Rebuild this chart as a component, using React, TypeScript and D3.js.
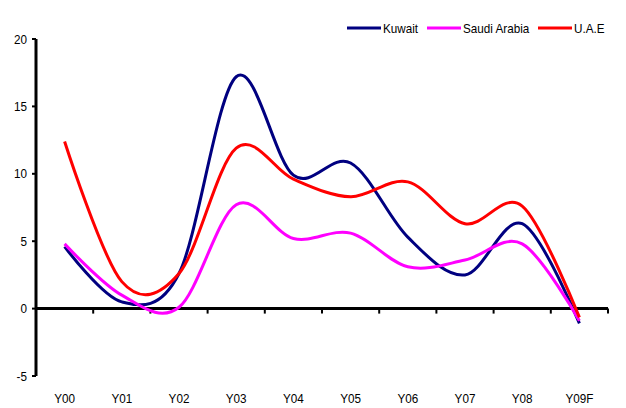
import React from "react";
import * as d3 from "d3";

const categories = ["Y00", "Y01", "Y02", "Y03", "Y04", "Y05", "Y06", "Y07", "Y08", "Y09F"];
const kuwait = [4.6, 0.5, 2.6, 17.2, 9.9, 10.8, 5.3, 2.5, 6.3, -1.1];
const saudiArabia = [4.8, 1.0, 0.1, 7.7, 5.2, 5.6, 3.1, 3.6, 4.8, -0.9];
const uae = [12.4, 2.0, 2.6, 11.9, 9.6, 8.3, 9.4, 6.3, 7.6, -0.65];
const yTicks = [-5, 0, 5, 10, 15, 20];

const series = [
  { name: "Kuwait", values: kuwait, color: "#000080" },
  { name: "Saudi Arabia", values: saudiArabia, color: "#ff00ff" },
  { name: "U.A.E", values: uae, color: "#ff0000" },
];

const W = 626;
const H = 408;
const left = 36;
const right = 608;
const top = 39;
const bottom = 376;
const font = "'Liberation Sans', Arial, sans-serif";
const fontSize = 13;
const squeeze = 0.9;

// Label drawn with a slightly condensed horizontal scale
function Label({
  x,
  y,
  anchor,
  children,
}: {
  x: number;
  y: number;
  anchor: "start" | "middle" | "end";
  children: React.ReactNode;
}) {
  return (
    <text
      transform={`translate(${x},${y}) scale(${squeeze},1)`}
      dy="0.35em"
      textAnchor={anchor}
      fontFamily={font}
      fontSize={fontSize}
      fill="#000"
    >
      {children}
    </text>
  );
}

export default function App() {
  const x = d3.scaleBand<string>().domain(categories).range([left, right]).padding(0);
  const y = d3.scaleLinear().domain([-5, 20]).range([bottom, top]);
  const cx = (c: string) => (x(c) ?? 0) + x.bandwidth() / 2;

  // smoothed lines: uniform Catmull-Rom spline through each point
  const line = d3
    .line<number>()
    .x((_, i) => cx(categories[i]))
    .y((v) => y(v))
    .curve(d3.curveCardinal.tension(0));

  const boundaries = d3.range(categories.length + 1).map((i) => left + i * x.bandwidth());

  const legendX = [347, 427, 538];

  return (
    <svg width={W} height={H} style={{ position: "absolute", left: 0, top: 0, background: "#fff" }}>
      {/* y axis */}
      <line x1={left} x2={left} y1={y(20)} y2={y(-5)} stroke="#000" strokeWidth={3} />
      {yTicks.map((t) => (
        <g key={t}>
          <line x1={left - 4} x2={left} y1={y(t)} y2={y(t)} stroke="#000" strokeWidth={2} />
          <Label x={left - 9} y={y(t)} anchor="end">
            {t}
          </Label>
        </g>
      ))}
      {/* x axis at zero */}
      <line x1={left} x2={right} y1={y(0)} y2={y(0)} stroke="#000" strokeWidth={3} />
      {boundaries.slice(1).map((b, i) => (
        <line key={i} x1={b} x2={b} y1={y(0)} y2={y(0) + 5} stroke="#000" strokeWidth={2} />
      ))}
      {categories.map((c) => (
        <Label key={c} x={cx(c)} y={398} anchor="middle">
          {c}
        </Label>
      ))}
      {/* series */}
      {series.map((s) => (
        <path
          key={s.name}
          d={line(s.values) ?? ""}
          fill="none"
          stroke={s.color}
          strokeWidth={3}
          strokeLinejoin="round"
        />
      ))}
      {/* legend */}
      {series.map((s, i) => (
        <g key={s.name}>
          <line
            x1={legendX[i]}
            x2={legendX[i] + 34}
            y1={28}
            y2={28}
            stroke={s.color}
            strokeWidth={3}
          />
          <Label x={legendX[i] + 36} y={28} anchor="start">
            {s.name}
          </Label>
        </g>
      ))}
    </svg>
  );
}
